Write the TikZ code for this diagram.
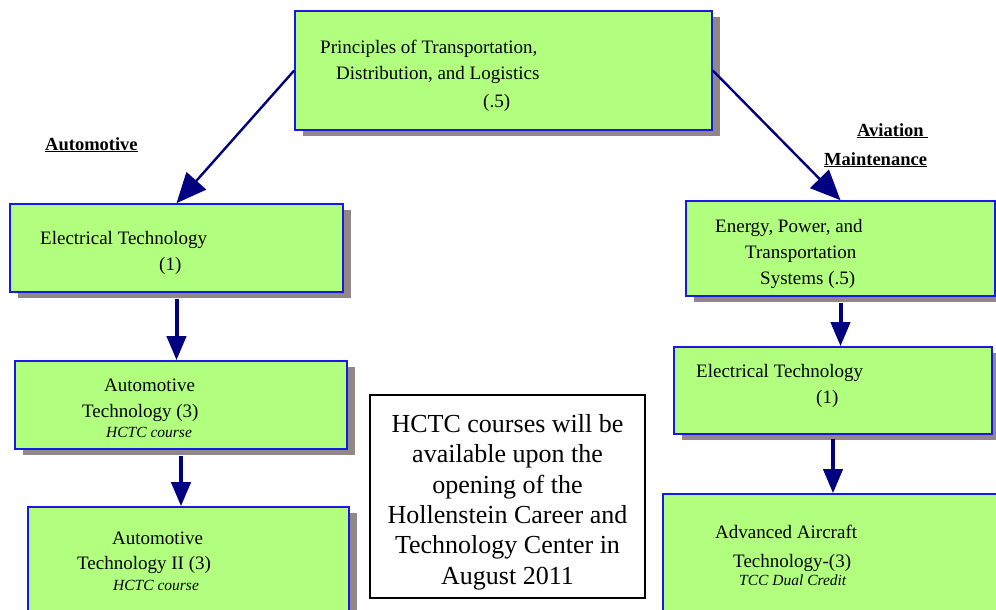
\documentclass[tikz,border=0pt]{standalone}
\usepackage{fontspec}
\setmainfont{Liberation Serif}
\usetikzlibrary{arrows.meta,shadows}
\definecolor{boxgreen}{RGB}{178,255,128}
\definecolor{boxblue}{RGB}{25,25,230}
\definecolor{arrnavy}{RGB}{0,0,128}
\definecolor{shadowgray}{RGB}{145,135,135}
\begin{document}
\begin{tikzpicture}[x=1pt,y=-1pt,
  coursebox/.style={draw=boxblue, fill=boxgreen, line width=1.6pt, rectangle, inner sep=0pt,
    general shadow={fill=shadowgray, shadow xshift=8pt, shadow yshift=-6pt}},
  notebox/.style={draw=black, fill=white, line width=1.2pt, rectangle, inner sep=0pt},
  notetxt/.style={inner sep=0pt, align=center, font=\fontsize{26}{30.4}\selectfont},
  txt/.style={anchor=base west, inner sep=0pt, font=\fontsize{19}{23}\selectfont},
  itxt/.style={anchor=base west, inner sep=0pt, font=\fontsize{15.5}{18}\selectfont\itshape},
  lbl/.style={anchor=base west, inner sep=0pt, font=\fontsize{18.5}{22}\selectfont\bfseries},
  diagarrow/.style={draw=arrnavy, line width=2.4pt, -{Triangle[length=30pt,width=26pt]}},
  vertarrow/.style={draw=arrnavy, line width=4pt, -{Triangle[length=24pt,width=19pt]}}
]
\clip (0,0) rectangle (996,610);
\fill[white] (0,0) rectangle (996,610);

% boxes
\node[coursebox, minimum width=417pt, minimum height=119pt] (top) at (503.5,70.5) {};
\node[coursebox, minimum width=333pt, minimum height=88pt] (elec) at (176.5,248) {};
\node[coursebox, minimum width=332pt, minimum height=88pt] (autotech) at (181,405) {};
\node[coursebox, minimum width=321pt, minimum height=123pt] (autotwo) at (188.5,568.5) {};
\node[coursebox, minimum width=309pt, minimum height=95pt] (energy) at (840.5,248.5) {};
\node[coursebox, minimum width=318pt, minimum height=87pt] (relec) at (833,390.5) {};
\node[coursebox, minimum width=347pt, minimum height=146pt] (aircraft) at (836.5,567) {};
\node[notebox, minimum width=275pt, minimum height=203pt] (note) at (507.5,496.5) {};
\node[notetxt] (notetext) at (507.5,502)
  {HCTC courses will be\\ available upon the\\ opening of the\\ Hollenstein Career and\\ Technology Center in\\ August 2011};

% texts
\node[txt] (t1) at (320,54) {Principles of Transportation,};
\node[txt] (t2) at (336,80) {Distribution, and Logistics};
\node[txt] (t3) at (483,107) {(.5)};

\node[txt] (e1) at (40,244) {Electrical Technology};
\node[txt] (e2) at (159,270) {(1)};

\node[txt] (a1) at (104,391) {Automotive};
\node[txt] (a2) at (82,417) {Technology (3)};
\node[itxt] (a3) at (106,437) {HCTC course};

\node[txt] (b1) at (112,544) {Automotive};
\node[txt] (b2) at (77,569) {Technology II (3)};
\node[itxt] (b3) at (113,590) {HCTC course};

\node[txt] (n1) at (715,232) {Energy, Power, and};
\node[txt] (n2) at (745,258) {Transportation};
\node[txt] (n3) at (760,284) {Systems (.5)};

\node[txt] (r1) at (696,377) {Electrical Technology};
\node[txt] (r2) at (816,403) {(1)};

\node[txt] (c1) at (715,538) {Advanced Aircraft};
\node[txt] (c2) at (733,567) {Technology-(3)};
\node[itxt] (c3) at (739,585) {TCC Dual Credit};

% labels
\node[lbl] (lauto) at (45,150) {\underline{Automotive}};
\node[lbl] (lavia) at (857,136) {\underline{Aviation\ }};
\node[lbl] (lmaint) at (824,165) {\underline{Maintenance}};

% arrows
\draw[diagarrow] (top.west) -- (elec.north);
\draw[diagarrow] (top.east) -- (energy.north);
\draw[vertarrow] ([yshift=-6pt]elec.south) -- (elec.south |- autotech.north);
\draw[vertarrow] ([yshift=-6pt]autotech.south) -- (autotech.south |- autotwo.north);
\draw[vertarrow] ([yshift=-6pt]energy.south) -- (energy.south |- relec.north);
\draw[vertarrow] ([yshift=-4pt]relec.south) -- (relec.south |- aircraft.north);
\end{tikzpicture}
\end{document}
